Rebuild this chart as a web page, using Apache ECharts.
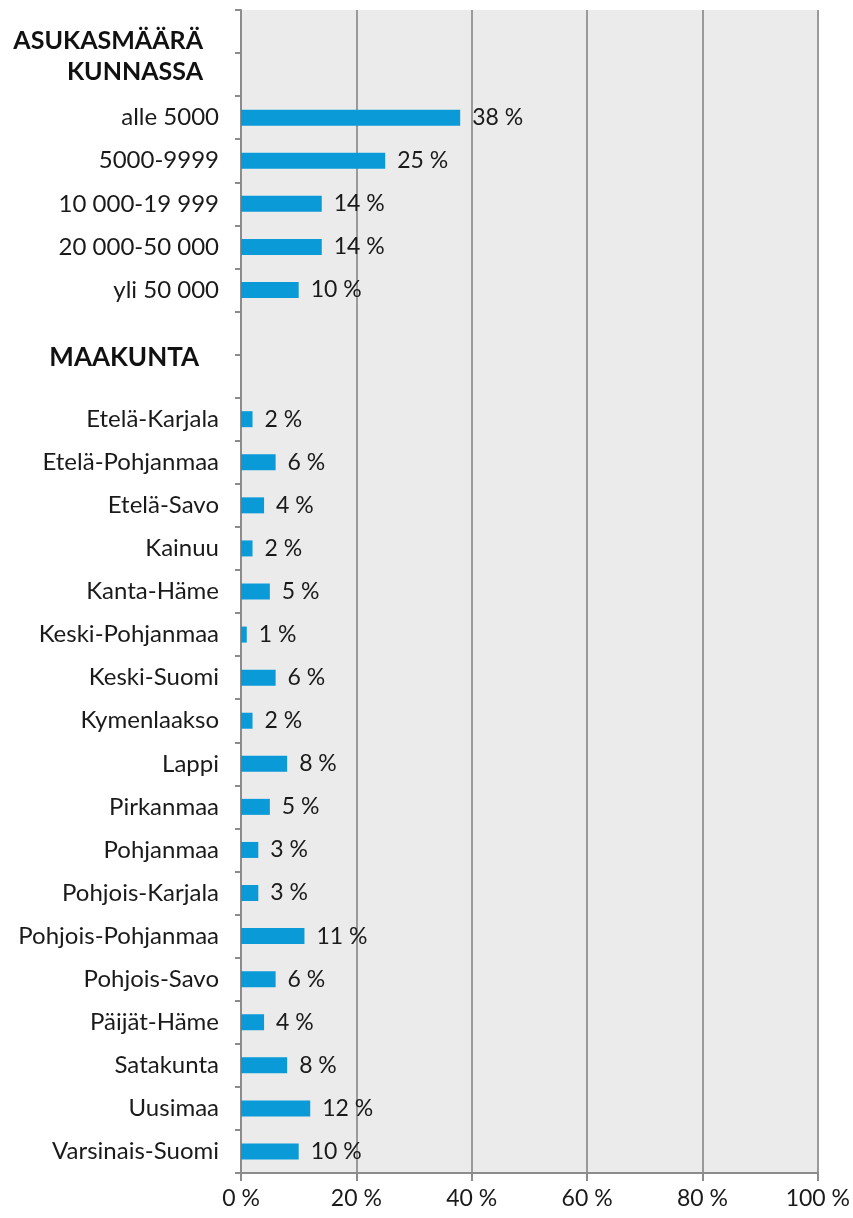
<!DOCTYPE html>
<html>
<head>
<meta charset="utf-8">
<script src="https://cdn.jsdelivr.net/npm/echarts@6/dist/echarts.min.js"></script>
<style>
  html, body { margin: 0; padding: 0; background: #fff; }
  #chart { width: 853px; height: 1218px; }
</style>
</head>
<body>
<div id="chart"></div>
<script>
// rows top to bottom; header rows and empty spacer rows have no value
const categories = [
  'ASUKASMÄÄRÄ', 'KUNNASSA',
  'alle 5000', '5000-9999', '10 000-19 999', '20 000-50 000', 'yli 50 000',
  '', 'MAAKUNTA',
  'Etelä-Karjala', 'Etelä-Pohjanmaa', 'Etelä-Savo', 'Kainuu', 'Kanta-Häme',
  'Keski-Pohjanmaa', 'Keski-Suomi', 'Kymenlaakso', 'Lappi', 'Pirkanmaa',
  'Pohjanmaa', 'Pohjois-Karjala', 'Pohjois-Pohjanmaa', 'Pohjois-Savo',
  'Päijät-Häme', 'Satakunta', 'Uusimaa', 'Varsinais-Suomi'
];
const values = [
  null, null,
  38, 25, 14, 14, 10,
  null, null,
  2, 6, 4, 2, 5, 1, 6, 2, 8, 5, 3, 3, 11, 6, 4, 8, 12, 10
];
const xTicks = [0, 20, 40, 60, 80, 100];

const headerStyle = {
  ASUKASMÄÄRÄ: 'h1',
  KUNNASSA: 'h2',
  MAAKUNTA: 'h3'
};

const chart = echarts.init(document.getElementById('chart'));
chart.setOption({
  animation: false,
  textStyle: { fontFamily: 'Lato' },
  grid: { left: 241, right: 33, top: 10, bottom: 45, containLabel: false },
  xAxis: {
    type: 'value',
    min: 0,
    max: 100,
    interval: 20,
    axisLine: { show: true, lineStyle: { color: '#8c8c8c', width: 2 } },
    axisTick: { show: true, length: 8, lineStyle: { color: '#8c8c8c', width: 2 } },
    axisLabel: {
      color: '#1a1a1a',
      fontSize: 23,
      margin: 14,
      formatter: v => xTicks.includes(v) ? v + ' %' : ''
    },
    splitLine: { show: true, lineStyle: { color: '#9a9a9a', width: 2 } }
  },
  yAxis: {
    type: 'category',
    inverse: true,
    data: categories,
    axisLine: { show: true, lineStyle: { color: '#8c8c8c', width: 2 } },
    axisTick: { show: true, length: 6, interval: 0, lineStyle: { color: '#8c8c8c', width: 2 } },
    splitArea: { show: true, areaStyle: { color: ['#ebebeb', '#ebebeb'] } },
    axisLabel: {
      interval: 0,
      margin: 22,
      color: '#1a1a1a',
      fontSize: 24,
      formatter: v => headerStyle[v] ? '{' + headerStyle[v] + '|' + v + '}' : v,
      rich: {
        h1: { fontSize: 25, fontWeight: 'bold', color: '#111', padding: [18, 16, 0, 0] },
        h2: { fontSize: 25, fontWeight: 'bold', color: '#111', padding: [0, 16, 6, 0] },
        h3: { fontSize: 26, fontWeight: 'bold', color: '#111', padding: [0, 20, 38, 0] }
      }
    }
  },
  series: [{
    type: 'bar',
    data: values,
    barWidth: 16,
    itemStyle: { color: '#0a9ad8' },
    label: {
      show: true,
      position: 'right',
      distance: 12,
      color: '#1a1a1a',
      fontSize: 23,
      formatter: p => p.value == null ? '' : p.value + ' %'
    }
  }]
});
</script>
</body>
</html>
